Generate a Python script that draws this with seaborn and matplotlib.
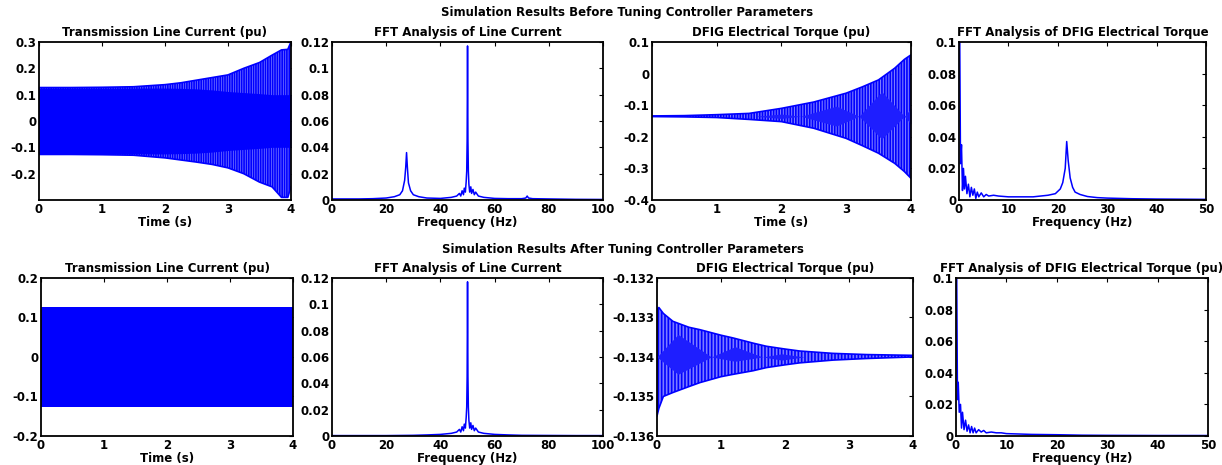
"""Simulation results before / after tuning controller parameters (DFIG)."""
import matplotlib
matplotlib.use("Agg")
import matplotlib.pyplot as plt
import pandas as pd
import seaborn as sns

# ---------------------------------------------------------------- data
# time-domain signals are stored as envelopes
TIME_TICKS = [0, 1, 2, 3, 4]

# line current, before tuning (outer envelope of the 50 Hz oscillation)
cur_b_t = [0.0, 0.5, 1.0, 1.5, 2.0, 2.25, 2.5, 2.75, 3.0, 3.25, 3.5, 3.7, 3.85, 3.95, 4.0]
cur_b_up = [0.127, 0.127, 0.128, 0.130, 0.138, 0.145, 0.155, 0.165, 0.175, 0.200, 0.222, 0.250, 0.270, 0.272, 0.300]
cur_b_lo = [-0.127, -0.127, -0.128, -0.130, -0.140, -0.148, -0.156, -0.165, -0.178, -0.200, -0.232, -0.250, -0.290, -0.290, -0.250]
cur_b_core = [0.125, 0.125, 0.125, 0.125, 0.125, 0.124, 0.122, 0.118, 0.112, 0.108, 0.104, 0.100, 0.100, 0.100, 0.100]

# FFT of line current, before tuning
fft_ib_f = [0, 5, 10, 15, 20, 23, 25, 26, 26.8, 27.2, 27.5, 27.8, 28.2, 29, 30, 32, 35, 40,
            44, 46, 47, 47.5, 48, 48.5, 48.8, 49.2, 49.5, 49.7, 49.85, 50, 50.15, 50.3, 50.5,
            50.8, 51.2, 51.5, 52, 52.5, 53, 54, 56, 60, 65, 70, 71.5, 72, 72.5, 74, 80, 90, 100]
fft_ib_m = [0.0008, 0.0008, 0.0008, 0.0010, 0.0015, 0.0025, 0.004, 0.007, 0.015, 0.025, 0.036, 0.025, 0.013, 0.007, 0.004, 0.0025, 0.0015, 0.0012,
            0.002, 0.003, 0.005, 0.003, 0.007, 0.004, 0.009, 0.006, 0.014, 0.022, 0.045, 0.117, 0.045, 0.022, 0.012,
            0.006, 0.010, 0.005, 0.008, 0.004, 0.006, 0.003, 0.002, 0.0012, 0.0010, 0.0010, 0.0015, 0.003, 0.0015, 0.0010, 0.0008, 0.0005, 0.0004]

# DFIG torque, before tuning (outer envelope + inner beat lenses)
trq_b_t = [0.0, 0.5, 1.0, 1.5, 2.0, 2.5, 3.0, 3.25, 3.5, 3.75, 3.9, 4.0]
trq_b_up = [-0.134, -0.133, -0.130, -0.126, -0.110, -0.090, -0.062, -0.042, -0.020, 0.017, 0.045, 0.059]
trq_b_lo = [-0.136, -0.137, -0.139, -0.145, -0.152, -0.173, -0.205, -0.228, -0.252, -0.284, -0.310, -0.331]
lens_b_t = [1.6, 2.0, 2.3, 2.85, 3.2, 3.55, 3.9, 4.0]
lens_b_up = [-0.135, -0.128, -0.135, -0.103, -0.135, -0.057, -0.135, -0.110]
lens_b_lo = [-0.135, -0.142, -0.135, -0.166, -0.135, -0.207, -0.135, -0.160]

# FFT of torque, before tuning
fft_tb_f = [0, 0.15, 0.3, 0.5, 0.7, 0.9, 1.1, 1.3, 1.6, 1.9, 2.2, 2.5, 2.8, 3.1, 3.4, 3.7, 4.0, 4.5,
            5, 5.5, 6, 7, 8, 10, 12, 15, 18, 19.5, 20.5, 21, 21.5, 21.8, 22.1, 22.5, 23, 23.5,
            24.5, 26, 28, 30, 35, 40, 45, 50]
fft_tb_m = [0.135, 0.100, 0.023, 0.035, 0.006, 0.020, 0.007, 0.015, 0.004, 0.010, 0.002, 0.008, 0.003, 0.007, 0.001, 0.005, 0.002, 0.0045,
            0.002, 0.0035, 0.0025, 0.003, 0.0025, 0.002, 0.002, 0.002, 0.003, 0.004, 0.007, 0.011, 0.020, 0.037, 0.025, 0.014, 0.008, 0.005,
            0.0035, 0.0022, 0.0015, 0.0012, 0.0008, 0.0006, 0.0005, 0.0004]

# line current, after tuning
cur_a_t = [0.0, 4.0]
cur_a_up = [0.126, 0.126]
cur_a_lo = [-0.126, -0.126]

# FFT of line current, after tuning
fft_ia_f = [0, 10, 20, 30, 35, 40, 44, 46, 47, 47.5, 48, 48.5, 48.8, 49.2, 49.5, 49.7, 49.85, 50, 50.15,
            50.3, 50.5, 50.8, 51.2, 51.5, 52, 52.5, 53, 54, 56, 60, 65, 70, 80, 90, 100]
fft_ia_m = [0.0003, 0.0003, 0.0003, 0.0005, 0.0008, 0.0012, 0.002, 0.003, 0.005, 0.003, 0.007, 0.004, 0.009, 0.006, 0.014, 0.022, 0.045, 0.117, 0.045,
            0.022, 0.012, 0.006, 0.010, 0.005, 0.008, 0.004, 0.006, 0.003, 0.002, 0.0012, 0.0008, 0.0005, 0.0004, 0.0003, 0.0003]

# DFIG torque, after tuning
trq_a_t = [0.0, 0.03, 0.1, 0.25, 0.5, 0.67, 1.0, 1.19, 1.5, 1.71, 2.0, 2.23, 2.75, 3.27, 4.0]
trq_a_up = [-0.13280, -0.13275, -0.13290, -0.13310, -0.13325, -0.13331, -0.13345, -0.13352, -0.13365, -0.13373, -0.13380, -0.13385, -0.13391, -0.13394, -0.13396]
trq_a_lo = [-0.13550, -0.13530, -0.13500, -0.13490, -0.13475, -0.13465, -0.13450, -0.13444, -0.13435, -0.13427, -0.13420, -0.13415, -0.13408, -0.13404, -0.13400]
lens_a_t = [0.0, 0.33, 0.85, 1.22, 1.65, 1.95, 2.3]
lens_a_up = [-0.1340, -0.13343, -0.1340, -0.13374, -0.1340, -0.13392, -0.1340]
lens_a_lo = [-0.1340, -0.13444, -0.1340, -0.13411, -0.1340, -0.13408, -0.1340]

# FFT of torque, after tuning
fft_ta_f = [0, 0.15, 0.3, 0.45, 0.65, 0.9, 1.1, 1.3, 1.6, 1.9, 2.2, 2.5, 2.8, 3.1, 3.4, 3.7, 4.0, 4.5,
            5, 5.5, 6, 7, 8, 9, 10, 12, 15, 20, 25, 30, 40, 50]
fft_ta_m = [0.134, 0.100, 0.023, 0.034, 0.015, 0.020, 0.005, 0.015, 0.004, 0.010, 0.003, 0.007, 0.002, 0.006, 0.002, 0.005, 0.002, 0.004,
            0.0025, 0.0035, 0.002, 0.0025, 0.002, 0.002, 0.0015, 0.0013, 0.0010, 0.0008, 0.0005, 0.0004, 0.0003, 0.0003]

# tick labels
yt_cur_b = [-0.2, -0.1, 0, 0.1, 0.2, 0.3]
yt_fft_i = [0, 0.02, 0.04, 0.06, 0.08, 0.1, 0.12]
yt_trq_b = [-0.4, -0.3, -0.2, -0.1, 0, 0.1]
yt_fft_t = [0, 0.02, 0.04, 0.06, 0.08, 0.1]
yt_cur_a = [-0.2, -0.1, 0, 0.1, 0.2]
yt_trq_a = [-0.136, -0.135, -0.134, -0.133, -0.132]
xt_fft_i = [0, 20, 40, 60, 80, 100]
xt_fft_t = [0, 10, 20, 30, 40, 50]

TITLES = ["Transmission Line Current (pu)", "FFT Analysis of Line Current",
          "DFIG Electrical Torque (pu)", "FFT Analysis of DFIG Electrical Torque"]
TITLES_AFTER = TITLES[:3] + ["FFT Analysis of DFIG Electrical Torque (pu)"]

# ---------------------------------------------------------------- style
BLUE = "#0000ff"
LIGHT = "#7c7cff"
LENS = "#1e1eff"
FS = 8.5
sns.set_theme(style="white")
plt.rcParams.update({
    "font.family": ["DejaVu Sans"],
    "font.weight": "bold",
    "font.size": FS,
    "text.color": "black",
    "axes.labelcolor": "black",
    "axes.titleweight": "bold",
    "axes.labelweight": "bold",
    "hatch.linewidth": 1.2,
    "hatch.color": BLUE,
})

fig = plt.figure(figsize=(12.22, 4.65), dpi=100)

ROW_Y = [(0.5699, 0.3398), (0.0624, 0.3400)]
COLS = [
    [(0.0319, 0.2062), (0.2717, 0.2218), (0.5335, 0.2119), (0.7848, 0.2021)],
    [(0.0336, 0.2062), (0.2717, 0.2218), (0.5376, 0.2095), (0.7823, 0.2062)],
]


def label(v):
    return f"{v:g}"


def style_axes(ax, title, xlabel, xticks, yticks, xlim, ylim):
    ax.set_xlim(*xlim)
    ax.set_ylim(*ylim)
    ax.set_xticks(xticks)
    ax.set_xticklabels([label(v) for v in xticks])
    ax.set_yticks(yticks)
    ax.set_yticklabels([label(v) for v in yticks])
    ax.tick_params(direction="in", length=3, width=0.8, top=True, right=True,
                   labelsize=FS, pad=2, colors="black")
    for t in ax.get_xticklabels() + ax.get_yticklabels():
        t.set_fontweight("bold")
    for s in ax.spines.values():
        s.set_linewidth(1.3)
        s.set_color("black")
    ax.set_title(title, fontsize=FS, fontweight="bold", pad=4, color="black")
    ax.set_xlabel(xlabel, fontsize=FS, fontweight="bold", labelpad=0, color="black")
    ax.set_ylabel("")


def band(ax, t, lo, up, hatch="||||||"):
    ax.fill_between(t, lo, up, facecolor=LIGHT, edgecolor=BLUE, hatch=hatch, linewidth=0)
    sns.lineplot(x=t, y=up, ax=ax, color=BLUE, lw=1.2, estimator=None)
    sns.lineplot(x=t, y=lo, ax=ax, color=BLUE, lw=1.2, estimator=None)


def spectrum(ax, f, m):
    df = pd.DataFrame({"f": f, "m": m})
    sns.lineplot(data=df, x="f", y="m", ax=ax, color=BLUE, lw=1.1, estimator=None)


axes = [[fig.add_axes([x, ROW_Y[r][0], w, ROW_Y[r][1]]) for x, w in COLS[r]] for r in range(2)]

# before tuning
a1, a2, a3, a4 = axes[0]
band(a1, cur_b_t, cur_b_lo, cur_b_up, hatch="|||||||")
a1.fill_between(cur_b_t, [-v for v in cur_b_core], cur_b_core, color=BLUE, linewidth=0)
style_axes(a1, TITLES[0], "Time (s)", TIME_TICKS, yt_cur_b, (0, 4), (-0.3, 0.3))

spectrum(a2, fft_ib_f, fft_ib_m)
style_axes(a2, TITLES[1], "Frequency (Hz)", xt_fft_i, yt_fft_i, (0, 100), (0, 0.12))

band(a3, trq_b_t, trq_b_lo, trq_b_up)
a3.fill_between(lens_b_t, lens_b_lo, lens_b_up, color=LENS, linewidth=0)
style_axes(a3, TITLES[2], "Time (s)", TIME_TICKS, yt_trq_b, (0, 4), (-0.4, 0.1))

spectrum(a4, fft_tb_f, fft_tb_m)
style_axes(a4, TITLES[3], "Frequency (Hz)", xt_fft_t, yt_fft_t, (0, 50), (0, 0.1))

# after tuning
b1, b2, b3, b4 = axes[1]
b1.fill_between(cur_a_t, cur_a_lo, cur_a_up, color=BLUE, linewidth=0)
style_axes(b1, TITLES_AFTER[0], "Time (s)", TIME_TICKS, yt_cur_a, (0, 4), (-0.2, 0.2))

spectrum(b2, fft_ia_f, fft_ia_m)
style_axes(b2, TITLES_AFTER[1], "Frequency (Hz)", xt_fft_i, yt_fft_i, (0, 100), (0, 0.12))

band(b3, trq_a_t, trq_a_lo, trq_a_up, hatch="|||||")
b3.fill_between(lens_a_t, lens_a_lo, lens_a_up, color=LENS, linewidth=0)
style_axes(b3, TITLES_AFTER[2], "", TIME_TICKS, yt_trq_a, (0, 4), (-0.136, -0.132))

spectrum(b4, fft_ta_f, fft_ta_m)
style_axes(b4, TITLES_AFTER[3], "Frequency (Hz)", xt_fft_t, yt_fft_t, (0, 50), (0, 0.1))

fig.text(0.513, 0.974, "Simulation Results Before Tuning Controller Parameters",
         ha="center", va="center", fontsize=FS, fontweight="bold", color="black")
fig.text(0.510, 0.4645, "Simulation Results After Tuning Controller Parameters",
         ha="center", va="center", fontsize=FS, fontweight="bold", color="black")

fig.savefig("out.png", dpi=100)
plt.close(fig)
